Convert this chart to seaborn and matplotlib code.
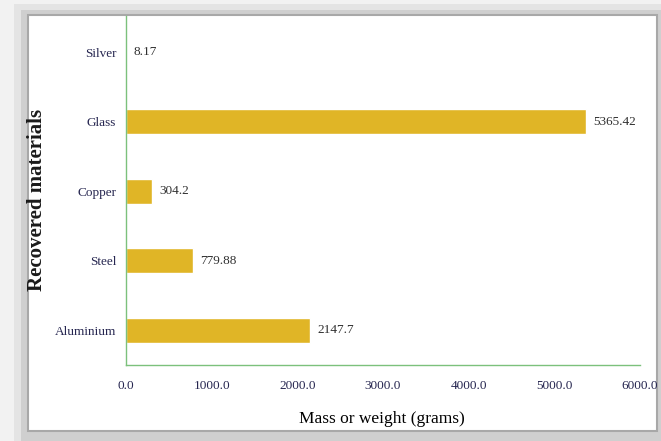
import pandas as pd
import matplotlib.pyplot as plt
import matplotlib.patches as mpatches
import seaborn as sns

# Data
materials = ["Silver", "Glass", "Copper", "Steel", "Aluminium"]
masses = [8.17, 5365.42, 304.2, 779.88, 2147.7]
mass_labels = ["8.17", "5365.42", "304.2", "779.88", "2147.7"]
x_ticks = [0, 1000, 2000, 3000, 4000, 5000, 6000]

df = pd.DataFrame({"material": materials, "mass": masses})

sns.set_style("white")
plt.rcParams["font.family"] = ["Liberation Serif", "DejaVu Serif"]

bar_color = "#E0B526"
axis_color = "#7CC17C"
tick_color = "#262650"
value_color = "#303030"

W, H = 661, 441
fig = plt.figure(figsize=(6.61, 4.41), dpi=100)
fig.patch.set_facecolor("#f2f2f2")


def fig_rect(x0, y0, x1, y1, **kw):
    """Rectangle given in pixel coords (origin top-left)."""
    return mpatches.Rectangle(
        (x0 / W, 1 - y1 / H), (x1 - x0) / W, (y1 - y0) / H,
        transform=fig.transFigure, **kw,
    )


# soft shadow + white card behind the chart
fig.patches.append(fig_rect(14, 4, 670, 450, facecolor="#e4e4e4", edgecolor="none", zorder=-12))
fig.patches.append(fig_rect(21, 10, 665, 446, facecolor="#cfcfcf", edgecolor="none", zorder=-11))
fig.patches.append(fig_rect(28, 15, 657, 431, facecolor="white", edgecolor="#a8a8a8",
                            linewidth=1.5, zorder=-10))

ax = fig.add_axes([126 / W, 1 - 365 / H, (640 - 126) / W, (365 - 16) / H])
ax.set_zorder(5)
ax.set_facecolor("none")

sns.barplot(
    data=df, x="mass", y="material", order=materials, orient="h",
    color=bar_color, width=0.36, saturation=1, ax=ax,
)

for i, (v, lab) in enumerate(zip(masses, mass_labels)):
    ax.text(v + 85, i, lab, va="center", ha="left", fontsize=9.5, color=value_color)

ax.set_xlim(0, 6000)
ax.set_ylim(4.5, -0.52)
ax.set_xticks(x_ticks)
ax.set_xticklabels([f"{t:.1f}" for t in x_ticks], fontsize=9.5, color=tick_color)
ax.tick_params(axis="x", length=0, pad=11)
ax.tick_params(axis="y", length=0, pad=7, labelsize=9.5, labelcolor=tick_color)

for side in ["top", "right"]:
    ax.spines[side].set_visible(False)
for side in ["left", "bottom"]:
    ax.spines[side].set_color(axis_color)
    ax.spines[side].set_linewidth(1.0)

ax.set_xlabel("Mass or weight (grams)", fontsize=12.5, color="black")
ax.xaxis.set_label_coords(0.498, -0.133)
ax.set_ylabel("Recovered materials", fontsize=15, fontweight="bold", color="#1a1a1a")
ax.yaxis.set_label_coords(-0.153, 0.474)

fig.savefig("out.png", dpi=100, facecolor=fig.get_facecolor())
